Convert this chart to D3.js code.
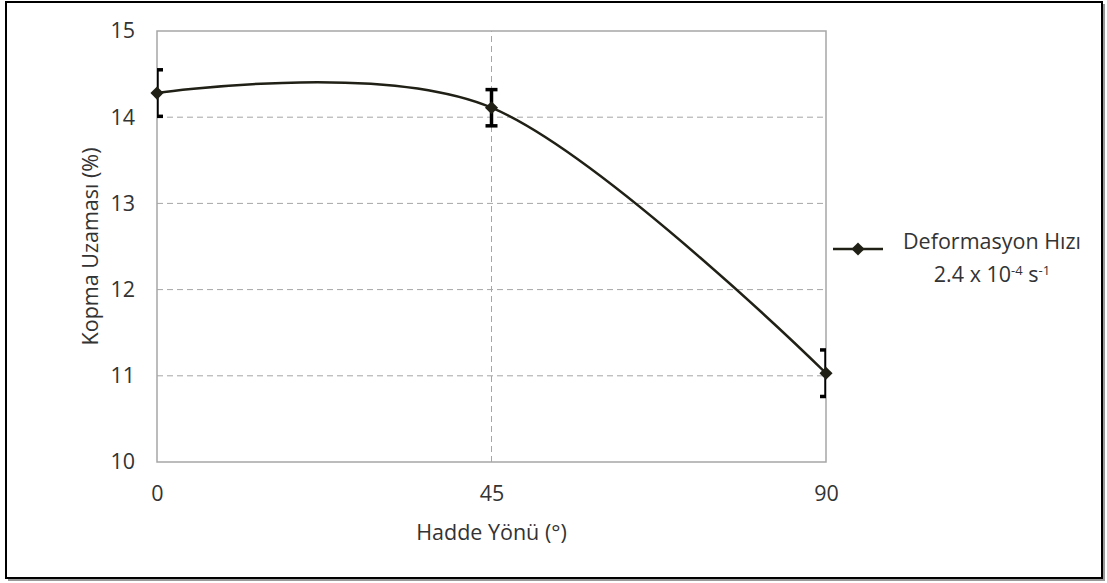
<!DOCTYPE html>
<html lang="tr">
<head>
<meta charset="utf-8">
<title>Kopma Uzaması</title>
<script src="https://cdn.jsdelivr.net/npm/d3@7"></script>
<style>
  body { margin: 0; background: #fff; }
  text { font-family: "Open Sans", sans-serif; fill: #333; }
</style>
</head>
<body>
<svg id="chart" width="1107" height="583"></svg>
<script>
// data
var directions = [0, 45, 90];
var elongation = [14.28, 14.11, 11.03];
var errors = [0.27, 0.21, 0.27];
var yTicks = [10, 11, 12, 13, 14, 15];

var W = 1107, H = 583;
var fs = 21.5;
var margin = {left: 157, right: 281, top: 31, bottom: 121};
var svg = d3.select("#chart");

// outer frame with a little shadow
svg.append("rect").attr("x", 8).attr("y", 4).attr("width", 1097).attr("height", 577).attr("fill", "#999");
svg.append("rect").attr("x", 6).attr("y", 2).attr("width", 1096).attr("height", 576)
   .attr("fill", "#fff").attr("stroke", "#000").attr("stroke-width", 2);

var x = d3.scaleLinear().domain([0, 90]).range([margin.left, W - margin.right]);
var y = d3.scaleLinear().domain([10, 15]).range([H - margin.bottom, margin.top]);

svg.append("clipPath").attr("id", "plotclip")
  .append("rect")
  .attr("x", x(0)).attr("y", y(15))
  .attr("width", x(90) - x(0)).attr("height", y(10) - y(15));

// grid
var grid = svg.append("g");
grid.selectAll("line.h").data(yTicks.slice(1, -1)).enter().append("line")
  .attr("x1", x(0)).attr("x2", x(90))
  .attr("y1", function(d) { return y(d); }).attr("y2", function(d) { return y(d); })
  .attr("stroke", "#a6a6a6").attr("stroke-dasharray", "6,4");
grid.selectAll("line.v").data([45]).enter().append("line")
  .attr("y1", y(10)).attr("y2", y(15))
  .attr("x1", function(d) { return x(d); }).attr("x2", function(d) { return x(d); })
  .attr("stroke", "#a6a6a6").attr("stroke-dasharray", "6,4");

svg.append("rect")
  .attr("x", x(0)).attr("y", y(15))
  .attr("width", x(90) - x(0)).attr("height", y(10) - y(15))
  .attr("fill", "none").attr("stroke", "#a6a6a6").attr("stroke-width", 1.5);

// axes (labels only)
var yAxis = svg.append("g").attr("transform", "translate(" + (x(0) - 22) + ",0)")
  .call(d3.axisLeft(y).tickValues(yTicks).tickFormat(d3.format("d")).tickSize(0).tickPadding(0));
yAxis.select(".domain").remove();
yAxis.attr("font-size", fs).attr("font-family", null);
yAxis.selectAll("text").style("fill", "#333");

var xAxis = svg.append("g").attr("transform", "translate(0," + (y(10) + 24) + ")")
  .call(d3.axisBottom(x).tickValues(directions).tickFormat(d3.format("d")).tickSize(0).tickPadding(0));
xAxis.select(".domain").remove();
xAxis.attr("font-size", fs).attr("font-family", null);
xAxis.selectAll("text").style("fill", "#333");

svg.append("text").attr("x", (x(0) + x(90)) / 2).attr("y", 540)
  .attr("text-anchor", "middle").attr("font-size", fs).text("Hadde Yönü (°)");
svg.append("text")
  .attr("transform", "translate(98," + ((y(10) + y(15)) / 2) + ") rotate(-90)")
  .attr("text-anchor", "middle").attr("font-size", fs).text("Kopma Uzaması (%)");

var pts = directions.map(function(d, i) { return [x(d), y(elongation[i])]; });
var lineColor = "#202016";

var plot = svg.append("g").attr("clip-path", "url(#plotclip)");
// error bars
var eb = plot.selectAll("g.eb").data(directions).enter().append("g");
eb.append("line")
  .attr("x1", function(d) { return x(d); }).attr("x2", function(d) { return x(d); })
  .attr("y1", function(d, i) { return y(elongation[i] + errors[i]); })
  .attr("y2", function(d, i) { return y(elongation[i] - errors[i]); })
  .attr("stroke", "#000").attr("stroke-width", 3.5);
[1, -1].forEach(function(s) {
  eb.append("line")
    .attr("x1", function(d) { return x(d) - 6; }).attr("x2", function(d) { return x(d) + 6; })
    .attr("y1", function(d, i) { return y(elongation[i] + s * errors[i]); })
    .attr("y2", function(d, i) { return y(elongation[i] + s * errors[i]); })
    .attr("stroke", "#000").attr("stroke-width", 3.5);
});

plot.append("path").datum(pts)
  .attr("d", d3.line().curve(d3.curveCardinal.tension(0)))
  .attr("fill", "none").attr("stroke", lineColor).attr("stroke-width", 2.5);

var diamond = d3.symbol().type(d3.symbolDiamond2).size(110);
svg.selectAll("path.mk").data(pts).enter().append("path")
  .attr("transform", function(d) { return "translate(" + d[0] + "," + d[1] + ")"; })
  .attr("d", diamond).attr("fill", lineColor);

// legend
var lg = svg.append("g");
lg.append("line").attr("x1", 833).attr("x2", 883).attr("y1", 249).attr("y2", 249)
  .attr("stroke", lineColor).attr("stroke-width", 2.5);
lg.append("path").attr("transform", "translate(858,249)").attr("d", diamond).attr("fill", lineColor);
lg.append("text").attr("x", 992).attr("y", 249).attr("text-anchor", "middle")
  .attr("font-size", fs).text("Deformasyon Hızı");
var t2 = lg.append("text").attr("x", 992).attr("y", 282).attr("text-anchor", "middle").attr("font-size", fs);
t2.append("tspan").text("2.4 x 10");
t2.append("tspan").attr("dy", -7).attr("font-size", 13).text("-4");
t2.append("tspan").attr("dy", 7).text(" s");
t2.append("tspan").attr("dy", -7).attr("font-size", 13).text("-1");
</script>
</body>
</html>
